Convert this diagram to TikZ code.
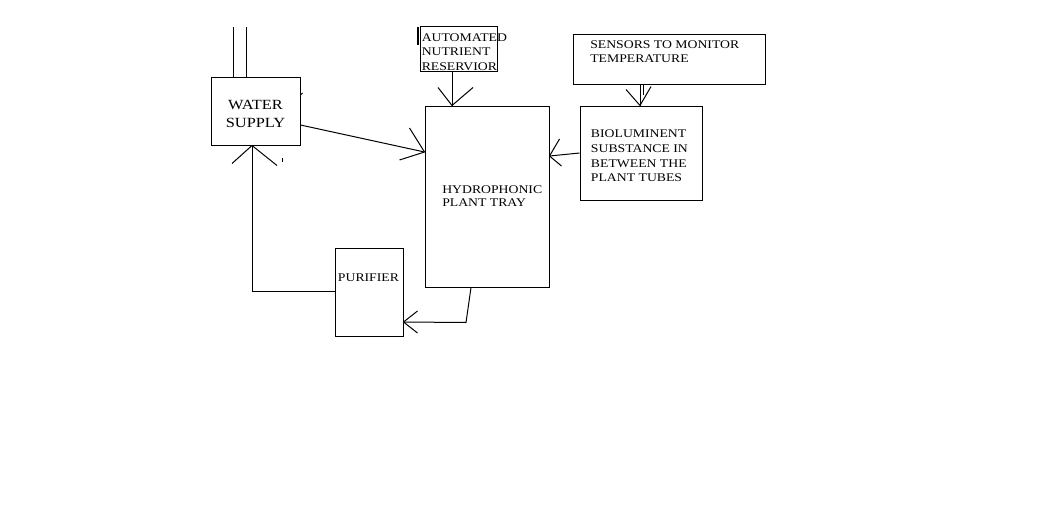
\documentclass[tikz,border=0pt]{standalone}
\usepackage{fontspec}
\newfontfamily\diagfont[FakeStretch=1.17]{Liberation Serif}
\newcommand\mylines[2][l]{\begin{tabular}[t]{@{}#1@{}}#2\end{tabular}}
\begin{document}
\begin{tikzpicture}[x=0.75pt,y=-0.75pt,
  box/.style={draw,line width=0.75pt,inner sep=0pt,rectangle},
  conn/.style={line width=0.75pt},
  lbl/.style={inner sep=0pt,anchor=base west,font=\diagfont\fontsize{8.8}{#1}\selectfont}]
\useasboundingbox[fill=white] (0,0) rectangle (1055,514);

% boxes
\node[box,minimum width=66.75pt,minimum height=51pt] (ws) at (255.5,111) {};
\node[box,minimum width=57.75pt,minimum height=33.75pt] (nutr) at (458.5,48.5) {};
\node[box,minimum width=93pt,minimum height=135.75pt] (hyd) at (487,196.5) {};
\node[box,minimum width=144pt,minimum height=37.5pt] (sens) at (669,59) {};
\node[box,minimum width=91.5pt,minimum height=70.5pt] (bio) at (641,153) {};
\node[box,minimum width=51pt,minimum height=66pt] (pur) at (369,292) {};

% labels
\node[lbl=14,anchor=base,font=\diagfont\fontsize{10.5}{14}\selectfont] (wst) at (255.5,109) {\mylines[c]{WATER\\SUPPLY}};
\node[lbl=10.9] (nutrt) at (421.5,41) {\mylines{AUTOMATED\\NUTRIENT\\RESERVIOR}};
\node[lbl=9.6] (hydt) at (442,193.5) {\mylines{HYDROPHONIC\\PLANT TRAY}};
\node[lbl=10.7] (senst) at (590,48.7) {\mylines{SENSORS TO MONITOR\\TEMPERATURE}};
\node[lbl=11.1] (biot) at (590.7,137.5) {\mylines{BIOLUMINENT\\SUBSTANCE IN\\BETWEEN THE\\PLANT TUBES}};
\node[lbl=10.7] (purt) at (337.7,281.2) {PURIFIER};

% inlet pipe above water supply
\draw[conn] (ws.north -| 233,0) -- ++(0,-50);
\draw[conn] (ws.north -| 246,0) -- ++(0,-50);

% extra mark on reservoir box edge
\draw[line width=1.5pt] (nutr.north west) ++(-1.5,1) -- ++(0,18);

% water supply -> tray
\draw[conn] (ws.east |- 0,125) -- (hyd.west |- 0,152) coordinate (t1);
\draw[conn] (t1) -- ++(-15,-24);
\draw[conn] (t1) -- ++(-25,8);

% reservoir -> tray
\draw[conn] (nutr.south -| 452,0) -- (hyd.north -| 452,0) coordinate (t2);
\draw[conn] (t2) -- ++(-14,-18);
\draw[conn] (t2) -- ++(21,-18);

% sensors -> bioluminent
\draw[conn] (sens.south -| 640,0) -- (bio.north -| 640,0) coordinate (t3);
\draw[conn] (sens.south -| 643,0) -- ++(0,10);
\draw[conn] (t3) -- ++(-14,-16);
\draw[conn] (t3) -- ++(11,-19);

% bioluminent -> tray
\draw[conn] (bio.west |- 0,153) -- (hyd.east |- 0,156) coordinate (t4);
\draw[conn] (t4) -- ++(10,-17);
\draw[conn] (t4) -- ++(12,10);

% tray -> purifier
\draw[conn] (hyd.south -| 471,0) -- ++(-5,35) -- (pur.east |- 0,322) coordinate (t5);
\draw[conn] (t5) -- ++(14,-11);
\draw[conn] (t5) -- ++(14,11);

% purifier -> water supply
\draw[conn] (pur.west |- 0,291) -| (ws.south -| 252,0) coordinate (t6);
\draw[conn] (t6) -- ++(-20,18);
\draw[conn] (t6) -- ++(25,20);

% small stray ticks
\draw[conn] (ws.east |- 0,95) -- ++(2,-2);
\draw[conn] (282,158) -- (282,162);
\end{tikzpicture}
\end{document}
